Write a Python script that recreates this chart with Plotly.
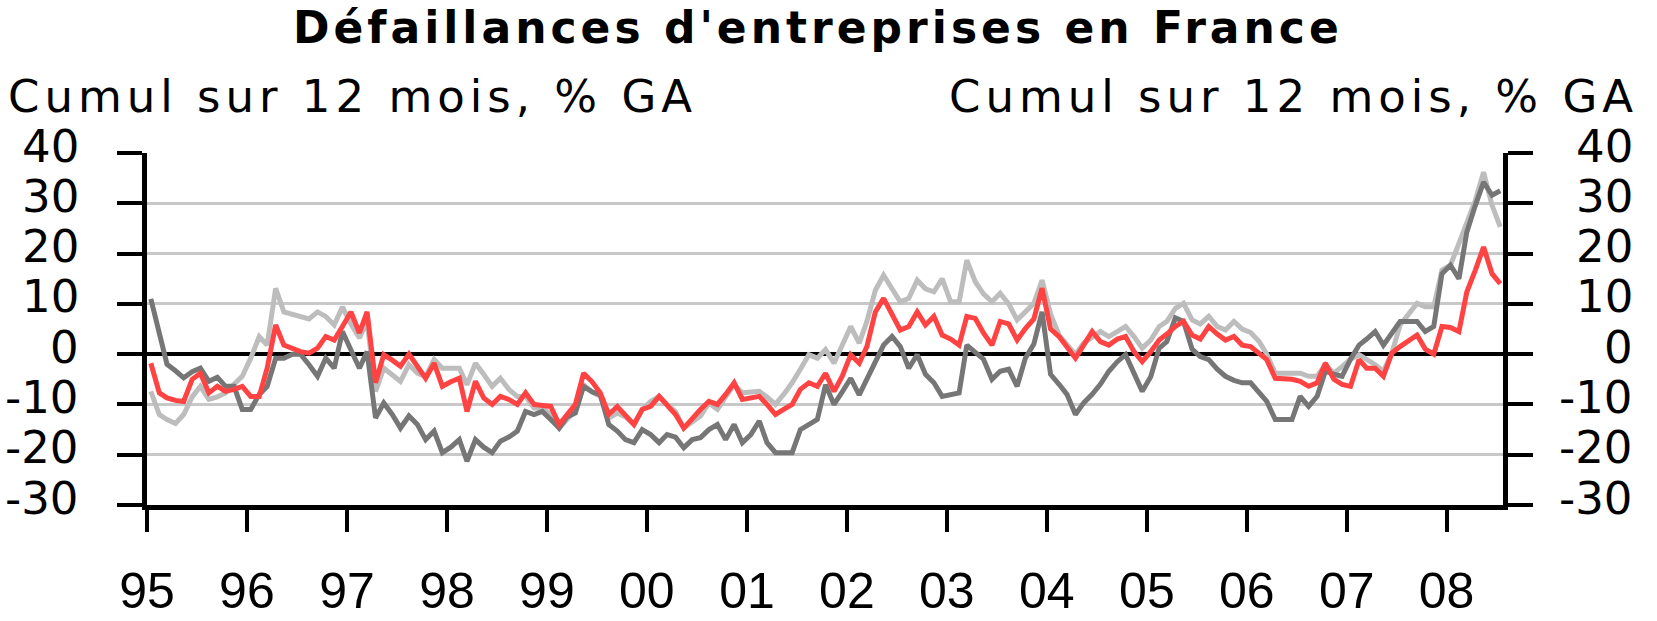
import plotly.graph_objects as go

# ---- data (monthly, Jan 1995 .. Jul 2008) ----
start_year = 1995
n_months = 163
year_labels = ['95', '96', '97', '98', '99', '00', '01', '02', '03', '04', '05', '06', '07', '08']
y_ticks = [40, 30, 20, 10, 0, -10, -20, -30]

light_gray = [
    -7.4, -12, -13, -13.8, -12, -8.5, -6.4, -9, -8.5, -7.7, -6, -4.4,
    -0.8, 3.5, 1.8, 13.1, 8.4, 8, 7.5, 7, 8.4, 7.5, 5.8, 9.4,
    6, 3.2, 6.5, -7.4, -2.8, -4, -5.4, -2.1, -3.8, -4.5, -1.1, -2.8,
    -2.8, -2.8, -6.1, -1.8, -4, -6.4, -4.8, -7, -8.4, -8.4, -10.7, -10.7,
    -12, -14.7, -13, -11.4, -6.1, -7.5, -8.4, -12.7, -11.7, -12.5, -14, -11,
    -9.4, -8.4, -10, -11.4, -14.7, -13.5, -12.3, -9.7, -11, -8.5, -6.1, -7.7,
    -7.5, -7.4, -8.5, -10, -8, -5.7, -3, -0.1, -0.8, 0.9, -1.8, 2,
    5.5, 2.2, 6.5, 12.7, 15.7, 13, 10.4, 11.1, 14.7, 13, 12.4, 15,
    10.4, 10.4, 18.7, 14.4, 12, 10.4, 12.1, 10, 6.8, 8.4, 10.1, 14.7,
    8, 3.8, 1.8, -0.1, 2.2, 3.5, 4.5, 3.5, 4.5, 5.5, 3.5, 1.2,
    2.8, 5.5, 6.5, 9.1, 10.1, 6.8, 6, 7.5, 5.5, 4.8, 6.5, 5,
    4.3, 2.5, 0, -3.8, -3.8, -3.8, -3.8, -4.4, -4.4, -2.1, -3.8, -2.5,
    -1, -0.1, -1, -2.1, -3.4, 0.2, 5.8, 8, 10.1, 9.4, 9.4, 16.7,
    17.7, 22, 26.3, 30.6, 36.2, 29.6, 25.3,
]

dark_gray = [
    11, 4, -2, -3.3, -4.7, -3.5, -2.8, -5.4, -4.6, -6.4, -6.4, -11,
    -11, -8, -6.4, -0.8, -0.8, 0, 0, -2.1, -4.4, -0.8, -2.8, 4.5,
    1, -2.8, 0.5, -12.7, -9.7, -12, -14.7, -12.3, -14, -17, -15.3, -19.6,
    -18.5, -17, -21.3, -17, -18.5, -19.6, -17.3, -16.5, -15.3, -11.4, -12, -11.4,
    -13, -14.7, -12.5, -11.7, -6.4, -7.5, -8.1, -14, -15.3, -17, -17.6, -15,
    -16, -17.6, -16, -16.5, -18.6, -17, -16.6, -15, -14, -17, -14, -17.6,
    -16, -13.3, -17.6, -19.6, -19.6, -19.6, -15, -14, -13, -6.1, -10, -7.5,
    -4.8, -8.1, -5, -1.5, 1.8, 3.5, 1.5, -2.8, -0.1, -4, -5.7, -8.4,
    -8, -7.7, 1.8, 0.3, -1, -5, -3.4, -3, -6.4, -0.8, 2, 8.4,
    -4, -6, -8, -12, -9.7, -8, -6, -3.4, -1.5, -0.1, -4.1, -7.4,
    -4.5, 1.2, 2.5, 7.2, 6.5, 1, -0.5, -1.1, -3, -4.4, -5.2, -5.7,
    -5.7, -7.5, -9.4, -13, -13, -13, -8.4, -10.4, -8.4, -3.4, -4, -4.4,
    -1, 1.8, 3, 4.5, 1.8, 4, 6.5, 6.5, 6.5, 4.5, 5.5, 16,
    17.7, 15, 24.3, 29.6, 34.2, 31.6, 32.5,
]

red = [
    -1.8, -7.7, -8.7, -9.2, -9.4, -5, -3.8, -7.7, -6.4, -7.4, -7, -6.4,
    -8.4, -8.4, -2.8, 5.8, 1.8, 1, 0.5, 0.2, 1.2, 3.5, 2.8, 5.5,
    8.4, 4.2, 8.4, -5.7, -0.1, -1.2, -2.4, 0, -2.4, -4.8, -1.8, -6.4,
    -5.5, -4.8, -11.4, -5.4, -8.7, -10, -8.4, -9, -10, -7.7, -10, -10.2,
    -10.4, -14, -12, -10, -3.8, -5.5, -7.7, -12, -10.4, -12, -14, -11,
    -10.4, -8.4, -10, -12, -14.7, -12.7, -11, -9.4, -10, -8, -5.7, -9,
    -8.7, -8.4, -10, -12, -11, -10, -7, -5.7, -6.4, -3.8, -7.4, -4.4,
    -0.1, -1.8, 1.5, 8.4, 11.1, 8, 4.8, 5.5, 8.4, 5.8, 7.5, 3.8,
    3, 1.8, 7.5, 7.1, 4.2, 1.8, 6.5, 6, 2.8, 5.1, 7, 13.1,
    5, 3.5, 1.5, -0.8, 1.8, 4.5, 2.5, 1.8, 3, 3.5, 0.5, -1.5,
    0.5, 2.8, 4, 5.5, 6.5, 3.8, 3, 5.5, 4, 2.8, 3.5, 1.8,
    1.5, 0, -1.1, -4.8, -4.8, -5, -5.4, -6.4, -5.7, -1.8, -5, -6,
    -6.4, -1.1, -2.8, -2.8, -4.4, 0.2, 1.5, 2.7, 3.8, 1, 0, 5.5,
    5.3, 4.5, 12.4, 16.7, 21.3, 16, 14,
]

title_text = "Défaillances d'entreprises en France"
axis_note = "Cumul sur 12 mois, % GA"

# ---- derived tables ----
dates = [f"{start_year + i // 12}-{i % 12 + 1:02d}-15" for i in range(n_months)]
year_ticks = [f"{start_year + k}-01-01" for k in range(len(year_labels))]

# ---- layout geometry (pixels) ----
W, H = 1657, 621
ML, MR, MT, MB = 147, 154, 153, 116
PW, PH = W - ML - MR, H - MT - MB


def px_x(p):
    return (p - ML) / PW


def px_y(p):
    return (H - MB - p) / PH


fig = go.Figure()
fig.add_trace(go.Scatter(x=dates, y=light_gray, mode='lines',
                         line=dict(color='#BDBDBD', width=5), hoverinfo='skip'))
fig.add_trace(go.Scatter(x=dates, y=dark_gray, mode='lines',
                         line=dict(color='#767676', width=5), hoverinfo='skip'))
fig.add_trace(go.Scatter(x=dates, y=red, mode='lines',
                         line=dict(color='#FF4242', width=5), hoverinfo='skip'))
fig.add_trace(go.Scatter(x=[dates[0]], y=[None], yaxis='y2', mode='lines',
                         showlegend=False, hoverinfo='skip'))

annotations = []
annotations.append(dict(
    text=f'<span style="letter-spacing:4px">{title_text}</span>',
    xref='paper', yref='paper', x=px_x(818), y=px_y(27),
    xanchor='center', yanchor='middle', showarrow=False,
    font=dict(family='DejaVu Sans', size=44, color='black', weight='bold')))
annotations.append(dict(
    text=f'<span style="letter-spacing:5px">{axis_note}</span>',
    xref='paper', yref='paper', x=px_x(6), y=px_y(96),
    xanchor='left', yanchor='middle', showarrow=False,
    font=dict(family='DejaVu Sans', size=45, color='black')))
annotations.append(dict(
    text=f'<span style="letter-spacing:5px">{axis_note}</span>',
    xref='paper', yref='paper', x=px_x(1640), y=px_y(96),
    xanchor='right', yanchor='middle', showarrow=False,
    font=dict(family='DejaVu Sans', size=45, color='black')))
for v in y_ticks:
    for xp in (81, 1635):
        annotations.append(dict(
            text=str(v),
            xref='paper', yref='y', x=px_x(xp), y=v, yshift=7,
            xanchor='right', yanchor='middle', showarrow=False,
            font=dict(family='DejaVu Sans', size=45, color='black')))

fig.update_layout(
    width=W, height=H,
    margin=dict(l=ML, r=MR, t=MT, b=MB, pad=0, autoexpand=False),
    paper_bgcolor='white', plot_bgcolor='white',
    showlegend=False,
    annotations=annotations,
    xaxis=dict(
        type='date', range=['1995-01-01', '2008-07-25'],
        showline=True, linecolor='black', linewidth=5,
        ticks='outside', ticklen=22, tickwidth=4, tickcolor='black',
        tickvals=year_ticks, ticktext=year_labels,
        tickfont=dict(family='Liberation Sans', size=50, color='black'),
        ticklabelstandoff=16, automargin=False,
        showgrid=False, zeroline=False,
    ),
    yaxis=dict(
        range=[-30, 40], tick0=0, dtick=10,
        showgrid=True, gridcolor='#C8C8C8', gridwidth=3,
        zeroline=True, zerolinecolor='black', zerolinewidth=4,
        showline=True, linecolor='black', linewidth=5,
        ticks='outside', ticklen=25, tickwidth=4, tickcolor='black',
        showticklabels=False, automargin=False,
    ),
    yaxis2=dict(
        range=[-30, 40], tick0=0, dtick=10, overlaying='y', side='right', anchor='x',
        showgrid=False, zeroline=False,
        showline=True, linecolor='black', linewidth=5,
        ticks='outside', ticklen=25, tickwidth=4, tickcolor='black',
        showticklabels=False, automargin=False,
    ),
)

fig.write_html("out.html", config={'displayModeBar': False},
               post_script="document.body.style.margin='0';")
